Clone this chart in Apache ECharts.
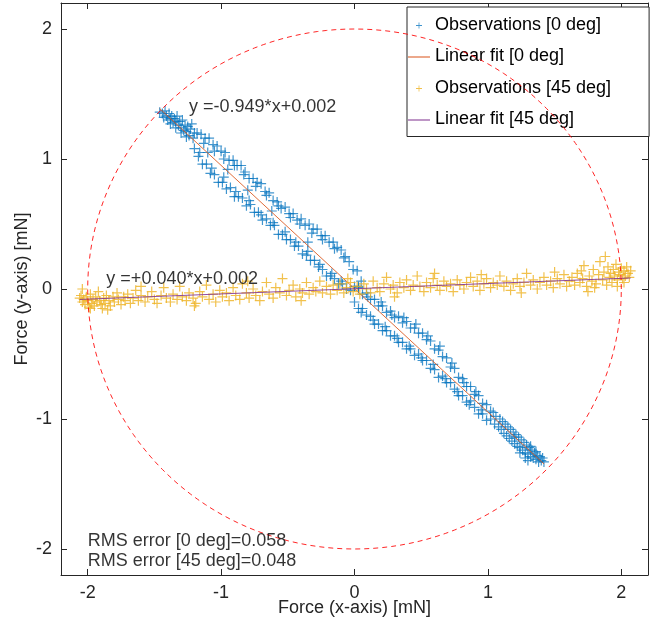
<!DOCTYPE html>
<html>
<head>
<meta charset="utf-8">
<title>Force calibration</title>
<script src="https://cdn.jsdelivr.net/npm/echarts@6/dist/echarts.min.js"></script>
<style>
  html, body { margin: 0; padding: 0; background: #fff; }
  #chart { width: 659px; height: 625px; }
</style>
</head>
<body>
<div id="chart"></div>
<script>
// Axis ticks (both axes share the same layout)
const xTicks = [-2, -1, 0, 1, 2];
const yTicks = [-2, -1, 0, 1, 2];
const axisMin = -2.2;
const axisMax = 2.2;

// Linear fits and residuals
const fit0 = { slope: -0.949, intercept: 0.002 };
const fit45 = { slope: 0.040, intercept: 0.002 };
const rms0 = 0.058;
const rms45 = 0.048;
const circleRadius = 2;

// Force observations, 0 deg [x, y] in mN
const obs0 = [
  [-1.46,1.36],[-1.44,1.35],[-1.43,1.32],[-1.42,1.37],[-1.41,1.33],[-1.40,1.30],[-1.39,1.35],[-1.38,1.31],
  [-1.37,1.33],[-1.36,1.28],[-1.35,1.31],[-1.34,1.29],[-1.33,1.33],[-1.32,1.26],[-1.31,1.29],[-1.30,1.24],
  [-1.29,1.30],[-1.28,1.22],[-1.27,1.26],[-1.26,1.21],[-1.25,1.25],[-1.24,1.18],[-1.23,1.23],[-1.22,1.27],
  [-1.21,1.16],[-1.20,1.20],[-1.38,1.27],[-1.34,1.24],[-1.30,1.20],[-1.26,1.17],
  [-1.18,1.20],[-1.15,1.19],[-1.12,1.16],[-1.09,1.16],[-1.06,1.11],[-1.03,1.10],[-1.00,1.06],[-0.97,1.05],
  [-0.94,0.99],[-0.91,0.99],[-0.88,0.95],[-0.85,0.95],[-0.82,0.90],[-0.79,0.85],[-0.76,0.85],[-0.73,0.82],
  [-0.70,0.81],[-0.67,0.75],[-0.64,0.74],[-0.61,0.68],[-0.58,0.67],[-0.55,0.62],[-0.52,0.63],[-0.49,0.58],
  [-0.46,0.58],[-0.43,0.53],[-0.40,0.54],[-0.37,0.49],[-0.34,0.50],[-0.31,0.46],[-0.28,0.46],[-0.25,0.41],
  [-0.22,0.41],[-0.19,0.36],[-0.16,0.36],[-0.13,0.32],[-0.10,0.30],[-0.07,0.25],[-0.04,0.21],[-0.01,0.15],
  [0.02,0.14],[0.05,0.06],[0.03,0.02],
  [-1.13,1.12],[-1.05,1.06],[-0.98,1.00],[-0.90,0.95],[-0.83,0.88],[-0.74,0.79],[-0.66,0.72],[-0.57,0.64],
  [-0.48,0.55],[-0.41,0.50],[-0.32,0.43],[-0.24,0.38],[-0.15,0.31],[-0.08,0.24],
  [-1.20,1.08],[-1.17,1.02],[-1.14,0.96],[-1.11,0.96],[-1.08,0.89],[-1.05,0.88],[-1.02,0.82],[-0.99,0.82],
  [-0.96,0.77],[-0.93,0.78],[-0.90,0.71],[-0.87,0.71],[-0.84,0.70],[-0.81,0.64],[-0.78,0.65],[-0.75,0.59],
  [-0.72,0.59],[-0.69,0.53],[-0.66,0.54],[-0.63,0.49],[-0.60,0.49],[-0.57,0.42],[-0.54,0.42],[-0.51,0.38],
  [-0.48,0.38],[-0.45,0.33],[-0.42,0.33],[-0.39,0.27],[-0.36,0.26],[-0.33,0.22],[-0.30,0.22],[-0.27,0.17],
  [-0.24,0.15],[-0.21,0.10],[-0.18,0.10],[-0.15,0.08],[-0.12,0.04],[-0.09,0.04],[-0.06,0.00],[-0.03,-0.01],
  [-1.16,1.05],[-1.07,0.93],[-0.98,0.86],[-0.89,0.75],[-0.79,0.68],[-0.70,0.57],[-0.61,0.51],[-0.52,0.44],
  [-0.44,0.36],[-0.35,0.29],[-0.26,0.19],[-0.17,0.12],[-0.10,0.06],
  [-1.10,1.05],[-0.95,0.92],[-0.80,0.76],[-0.62,0.60],[-0.35,0.36],
  [0.00,0.02],[0.03,0.01],[0.06,-0.04],[0.09,-0.03],[0.12,-0.08],[0.15,-0.08],[0.18,-0.13],[0.21,-0.13],
  [0.24,-0.18],[0.27,-0.17],[0.30,-0.22],[0.33,-0.21],[0.36,-0.26],[0.39,-0.25],[0.42,-0.30],[0.45,-0.30],
  [0.48,-0.34],[0.51,-0.34],[0.54,-0.39],[0.57,-0.40],[0.60,-0.46],[0.63,-0.47],[0.66,-0.52],[0.69,-0.53],
  [0.72,-0.60],[0.75,-0.61],[0.78,-0.68],[0.81,-0.69],[0.84,-0.75],[0.87,-0.75],[0.90,-0.81],[0.93,-0.82],
  [0.96,-0.88],[0.99,-0.89],[1.02,-0.94],
  [0.10,-0.06],[0.20,-0.10],[0.28,-0.20],[0.37,-0.22],[0.46,-0.27],[0.55,-0.36],[0.64,-0.44],[0.73,-0.57],
  [0.82,-0.72],[0.91,-0.79],
  [0.00,-0.10],[0.03,-0.15],[0.06,-0.15],[0.09,-0.20],[0.12,-0.21],[0.15,-0.27],[0.18,-0.27],[0.21,-0.32],
  [0.24,-0.32],[0.27,-0.36],[0.30,-0.36],[0.33,-0.41],[0.36,-0.41],[0.39,-0.46],[0.42,-0.46],[0.45,-0.51],
  [0.48,-0.50],[0.51,-0.55],[0.54,-0.55],[0.57,-0.61],[0.60,-0.62],[0.63,-0.68],[0.66,-0.67],[0.69,-0.72],
  [0.72,-0.72],[0.75,-0.77],[0.78,-0.82],[0.81,-0.82],[0.84,-0.87],[0.87,-0.86],[0.90,-0.91],[0.93,-0.96],
  [0.96,-0.96],[0.99,-1.01],
  [0.05,-0.18],[0.14,-0.24],[0.23,-0.29],[0.32,-0.38],[0.41,-0.44],[0.50,-0.53],[0.59,-0.58],[0.68,-0.69],
  [0.77,-0.79],[0.86,-0.89],[0.95,-0.93],
  [1.02,-1.00],[1.04,-0.95],[1.05,-1.04],[1.06,-0.98],[1.08,-1.06],[1.09,-1.00],[1.10,-1.08],[1.11,-1.02],
  [1.12,-1.11],[1.13,-1.04],[1.14,-1.13],[1.15,-1.06],[1.16,-1.15],[1.17,-1.08],[1.18,-1.17],[1.19,-1.10],
  [1.20,-1.19],[1.21,-1.12],[1.22,-1.21],[1.23,-1.14],[1.24,-1.22],[1.25,-1.16],[1.26,-1.24],[1.27,-1.18],
  [1.28,-1.26],[1.29,-1.20],[1.30,-1.27],[1.31,-1.22],[1.32,-1.29],[1.33,-1.24],[1.34,-1.30],[1.35,-1.26],
  [1.36,-1.31],[1.37,-1.28],[1.38,-1.33],[1.39,-1.29],[1.40,-1.32],[1.41,-1.30],[1.42,-1.33],[1.28,-1.30],
  [1.32,-1.21],[1.36,-1.25],[1.24,-1.26],[1.20,-1.14],[1.30,-1.32]
];

// Force observations, 45 deg [x, y] in mN
const obs45 = [
  [-2.06,-0.07],[-2.05,-0.05],[-2.04,-0.10],[-2.03,-0.08],[-2.02,-0.12],[-2.01,-0.06],[-2.00,-0.09],[-1.99,-0.14],
  [-1.98,-0.04],[-1.97,-0.11],[-1.96,-0.08],[-1.95,-0.13],[-1.94,-0.06],[-1.93,-0.10],[-1.92,-0.02],[-1.91,-0.09],
  [-1.90,-0.12],[-1.88,-0.07],[-1.87,-0.11],[-1.86,-0.05],[-1.84,-0.09],[-1.83,-0.13],[-1.81,-0.06],[-1.80,-0.10],
  [-1.78,-0.03],[-1.77,-0.08],[-1.75,-0.12],[-1.73,-0.06],[-1.72,-0.09],[-1.70,-0.04],[-1.68,-0.11],[-1.66,-0.07],
  [-1.64,-0.01],[-1.62,-0.09],[-1.60,-0.05],[-2.04,0.00],[-1.98,-0.15],[-1.89,-0.15],
  [-1.57,-0.10],[-1.55,-0.06],[-1.52,-0.02],[-1.50,-0.08],[-1.48,-0.11],[-1.45,-0.05],[-1.43,0.01],[-1.41,-0.07],
  [-1.38,-0.10],[-1.36,-0.04],[-1.33,-0.08],[-1.31,0.02],[-1.29,-0.06],[-1.26,-0.09],[-1.24,-0.03],[-1.21,-0.07],
  [-1.19,-0.11],[-1.16,-0.02],[-1.14,-0.06],[-1.11,0.03],[-1.09,-0.08],[-1.06,-0.04],[-1.04,-0.10],[-1.01,-0.01],
  [-0.99,-0.06],[-0.96,-0.03],[-0.94,-0.09],[-0.91,0.01],[-0.89,-0.05],[-0.86,-0.08],[-0.84,0.04],[-0.81,-0.03],
  [-0.79,-0.07],[-0.76,0.00],[-0.74,-0.05],[-0.71,-0.09],[-0.69,-0.02],[-0.66,0.05],[-0.64,-0.04],[-0.61,-0.07],
  [-0.59,0.01],[-0.56,-0.03],[-0.54,0.08],[-0.51,-0.05],[-0.49,-0.01],[-0.46,0.03],[-0.44,-0.06],[-0.41,0.00],
  [-0.39,-0.03],[-0.36,0.05],[-0.34,-0.04],[-0.31,0.01],[-0.29,-0.02],[-0.26,0.06],[-0.24,-0.03],[-0.21,0.02],
  [-0.18,-0.04],[-0.16,0.03],[-0.13,-0.01],[-0.11,0.04],[-0.08,-0.03],[-0.06,0.01],[-0.03,0.05],[-0.01,-0.02],
  [0.02,0.02],[0.04,-0.04],[0.07,0.04],[0.09,0.00],[0.12,-0.03],[0.14,0.06],[0.17,0.01],[0.19,-0.02],
  [0.22,0.04],[0.24,0.09],[0.27,0.00],[0.29,0.03],[0.32,-0.03],[0.34,0.05],[0.37,0.01],[0.39,0.07],
  [0.42,-0.01],[0.44,0.03],[0.47,0.10],[0.49,0.02],[0.52,-0.02],[0.54,0.05],[0.57,0.01],[0.59,0.08],
  [0.62,0.03],[0.64,-0.01],[0.67,0.06],[0.69,0.02],[0.72,0.04],[0.74,-0.02],[0.77,0.07],[0.79,0.03],
  [0.82,0.00],[0.84,0.05],[0.87,0.09],[0.89,0.02],[0.92,0.06],[0.94,-0.01],[0.97,0.04],[0.99,0.08],
  [1.02,0.01],[1.04,0.05],[1.07,0.03],[1.09,0.10],[1.12,0.02],[1.14,0.06],[1.17,-0.01],[1.19,0.04],
  [1.22,0.08],[1.24,0.02],[1.27,0.05],[1.29,0.12],[1.32,0.03],[1.34,0.07],[1.37,0.00],[1.39,0.05],
  [1.42,0.09],[1.44,0.03],[1.47,0.06],[1.49,0.01],[1.52,0.08],[1.54,0.04],[1.57,0.11],[1.59,0.02],
  [1.61,0.06],[1.63,0.09],[1.65,0.03],[1.67,0.12],[1.69,0.05],[1.71,0.08],[1.72,0.18],[1.74,0.02],
  [1.76,0.10],[1.78,0.06],[1.79,0.15],[1.81,0.04],[1.83,0.11],[1.84,0.21],[1.86,0.07],[1.87,0.13],
  [1.89,0.03],[1.90,0.17],[1.91,0.09],[1.92,0.12],[1.93,0.05],[1.94,0.15],[1.95,0.10],[1.96,0.19],
  [1.97,0.07],[1.98,0.13],[1.99,0.11],[2.00,0.16],[2.01,0.08],[2.02,0.14],[2.03,0.10],[2.04,0.17],
  [2.05,0.12],[2.06,0.09],[2.07,0.14],[1.88,0.25],[1.97,0.02],[2.02,0.05],[1.80,0.01],[1.70,0.14],
  [-1.85,-0.16],[-1.60,0.02],[-1.20,-0.13],[-0.80,0.06],[-0.40,-0.09],[-0.05,0.08],[0.30,-0.06],[0.60,0.12],
  [0.95,0.11],[1.25,-0.03],[1.50,0.13],[1.75,-0.02]
];

const FONT = "'Liberation Sans', Arial, sans-serif";
const AXIS_COLOR = '#262626';
const BLUE = '#0072BD';
const ORANGE = '#D95319';
const YELLOW = '#EDB120';
const PURPLE = '#7E2F8E';

// thin "+" marker
const PLUS = 'path://M4.4,0H5.6V4.4H10V5.6H5.6V10H4.4V5.6H0V4.4H4.4Z';
// legend icons drawn on a 22x14 canvas (tiny corner anchors keep the scale 1:1)
const ANCHORS = 'M0,0h0.01v0.01h-0.01Z M21.99,13.99h0.01v0.01h-0.01Z ';
const LEGEND_PLUS = 'path://' + ANCHORS + 'M10.6,4.5H11.4V7.1H14V7.9H11.4V10.5H10.6V7.9H8V7.1H10.6Z';
const LEGEND_LINE = 'path://' + ANCHORS + 'M0,7H22V8H0Z';

function fitLine(fit, pts) {
  const xs = pts.map(p => p[0]);
  const x0 = Math.min.apply(null, xs), x1 = Math.max.apply(null, xs);
  return [[x0, fit.slope * x0 + fit.intercept], [x1, fit.slope * x1 + fit.intercept]];
}
function fitText(fit) {
  const s = (fit.slope >= 0 ? '+' : '') + fit.slope.toFixed(3);
  const c = (fit.intercept >= 0 ? '+' : '') + fit.intercept.toFixed(3);
  return 'y =' + s + '*x' + c;
}
// reference circle of radius 2 mN
const circle = [];
for (let a = 0; a <= 360; a += 2) {
  const t = a * Math.PI / 180;
  circle.push([circleRadius * Math.cos(t), circleRadius * Math.sin(t)]);
}

function axis(position, ticks, showLabels, extra) {
  return Object.assign({
    type: 'value', position: position, min: axisMin, max: axisMax,
    splitLine: { show: false },
    axisLine: { show: true, onZero: false, lineStyle: { color: AXIS_COLOR, width: 1 } },
    axisTick: { show: true, inside: true, length: 6, customValues: ticks, lineStyle: { color: AXIS_COLOR, width: 1 } },
    axisLabel: { show: showLabels, customValues: ticks, fontSize: 18, color: AXIS_COLOR, fontFamily: FONT, margin: 9 }
  }, extra || {});
}

const chart = echarts.init(document.getElementById('chart'), null, { renderer: 'canvas' });
chart.setOption({
  animation: false,
  backgroundColor: '#fff',
  grid: { left: 61, right: 11, top: 3, bottom: 50, containLabel: false, outerBoundsMode: 'none' },
  xAxis: [
    axis('bottom', xTicks, true, {
      name: 'Force (x-axis) [mN]', nameLocation: 'middle', nameGap: 24, nameMoveOverlap: false,
      nameTextStyle: { fontSize: 18, color: AXIS_COLOR, fontFamily: FONT }
    }),
    axis('top', xTicks, false)
  ],
  yAxis: [
    axis('left', yTicks, true, {
      name: 'Force (y-axis) [mN]', nameLocation: 'middle', nameGap: 30, nameMoveOverlap: false,
      nameTextStyle: { fontSize: 18, color: AXIS_COLOR, fontFamily: FONT }
    }),
    axis('right', yTicks, false)
  ],
  legend: {
    left: 407, top: 7, orient: 'vertical',
    itemWidth: 22, itemHeight: 14, itemGap: 13.5,
    padding: [9, 38, 8, 1],
    backgroundColor: '#fff', borderColor: AXIS_COLOR, borderWidth: 1, borderRadius: 0,
    selectedMode: false,
    textStyle: { fontSize: 18, color: '#000', fontFamily: FONT, lineHeight: 18 },
    itemStyle: { borderWidth: 0 },
    data: [
      { name: 'Observations [0 deg]', icon: LEGEND_PLUS, itemStyle: { color: BLUE, borderWidth: 0 } },
      { name: 'Linear fit [0 deg]', icon: LEGEND_LINE, itemStyle: { color: ORANGE, borderWidth: 0 } },
      { name: 'Observations [45 deg]', icon: LEGEND_PLUS, itemStyle: { color: YELLOW, borderWidth: 0 } },
      { name: 'Linear fit [45 deg]', icon: LEGEND_LINE, itemStyle: { color: PURPLE, borderWidth: 0 } }
    ]
  },
  series: [
    {
      name: 'Observations [0 deg]', type: 'scatter', data: obs0,
      symbol: PLUS, symbolSize: 10,
      itemStyle: { color: BLUE, opacity: 0.75 }, z: 2
    },
    {
      name: 'Linear fit [0 deg]', type: 'line', data: fitLine(fit0, obs0),
      showSymbol: false, symbol: 'none',
      itemStyle: { color: ORANGE }, lineStyle: { color: ORANGE, width: 1, opacity: 0.85 }, z: 3
    },
    {
      name: 'Observations [45 deg]', type: 'scatter', data: obs45,
      symbol: PLUS, symbolSize: 10,
      itemStyle: { color: YELLOW, opacity: 0.8 }, z: 4
    },
    {
      name: 'Linear fit [45 deg]', type: 'line', data: fitLine(fit45, obs45),
      showSymbol: false, symbol: 'none',
      itemStyle: { color: PURPLE }, lineStyle: { color: PURPLE, width: 1, opacity: 0.85 }, z: 5
    },
    {
      name: 'Reference circle', type: 'line', data: circle,
      showSymbol: false, symbol: 'none', silent: true,
      lineStyle: { color: '#FF0000', width: 1, type: [5, 4], opacity: 0.85 }, z: 6
    },
    {
      name: 'Annotations', type: 'scatter', symbolSize: 0, silent: true, z: 7,
      label: {
        show: true, position: 'right', distance: 0, formatter: '{b}',
        fontSize: 18, color: '#000', fontFamily: FONT
      },
      data: [
        { name: fitText(fit0), value: [-1.24, 1.40] },
        { name: fitText(fit45), value: [-1.86, 0.077] },
        { name: 'RMS error [0 deg]=' + rms0.toFixed(3), value: [-2.0, -1.94] },
        { name: 'RMS error [45 deg]=' + rms45.toFixed(3), value: [-2.0, -2.09] }
      ]
    }
  ]
});
</script>
</body>
</html>
